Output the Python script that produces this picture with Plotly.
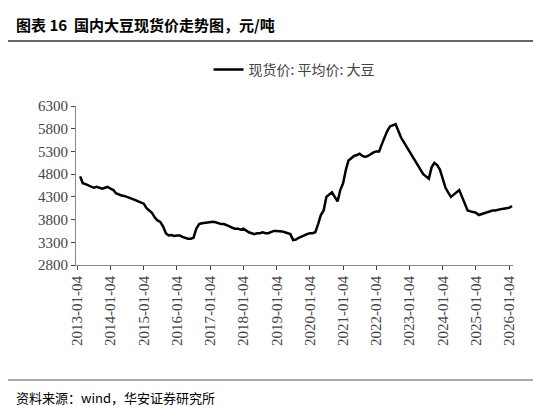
import plotly.graph_objects as go
import pandas as pd

start = "2013-01-04"
prices = [
 4750,4600,4580,4550,4520,4500,4520,4500,4480,4500,4520,4480,  # 2013
 4450,4380,4350,4330,4320,4300,4280,4250,4230,4200,4180,4150,  # 2014
 4050,4000,3950,3850,3780,3750,3650,3500,3450,3460,3440,3450,  # 2015
 3450,3420,3400,3380,3380,3400,3600,3700,3720,3730,3740,3750,  # 2016
 3750,3740,3720,3700,3700,3680,3650,3620,3600,3600,3580,3600,  # 2017
 3550,3520,3500,3480,3500,3500,3520,3500,3500,3520,3550,3550,  # 2018
 3550,3540,3520,3500,3480,3350,3360,3400,3420,3450,3480,3500,  # 2019
 3500,3520,3700,3900,4000,4300,4350,4400,4300,4200,4450,4600,  # 2020
 4900,5100,5150,5200,5220,5250,5200,5180,5200,5250,5280,5300,  # 2021
 5300,5450,5600,5750,5850,5880,5900,5750,5600,5500,5400,5300,  # 2022
 5200,5100,5000,4900,4800,4750,4700,4950,5050,5000,4900,4700, # 2023
 4500,4400,4300,4350,4400,4450,4300,4150,4000,3980,3960,3950, # 2024
 3900,3920,3950,3970,3980,4000,4000,4020,4030,4040,4050,4060, # 2025
 4100,
]
dates = pd.date_range(start, periods=len(prices), freq="MS") + pd.Timedelta(days=3)
tick_vals = [f"{y}-01-04" for y in range(2013, 2027)]
y_ticks = list(range(2800, 6301, 500))

W, H = 541, 406
L, R, T, B = 68, 36, 98, 149
pw, ph = W - L - R, H - T - B
def px(x): return (x - L) / pw
def py(y): return (H - B - y) / ph

axfont = dict(family="Liberation Serif", size=15, color="#444")
fig = go.Figure(go.Scatter(x=dates, y=prices, mode="lines", name="现货价: 平均价: 大豆",
                           line=dict(color="black", width=2.5)))
fig.update_layout(
    width=W, height=H, paper_bgcolor="white", plot_bgcolor="white",
    margin=dict(l=L, r=R, t=T, b=B, autoexpand=False),
    font=dict(family="Noto Sans CJK SC", size=13, color="#333"),
    showlegend=True,
    legend=dict(orientation="h", x=0.5, xanchor="center", y=py(62), yanchor="middle",
                font=dict(size=14, color="#444")),
    xaxis=dict(tickvals=tick_vals, ticktext=tick_vals, tickangle=-90, automargin=False,
               range=["2012-12-20", "2026-02-15"], showgrid=False,
               showline=True, linecolor="#888", ticks="outside", ticklen=4, tickfont=axfont),
    yaxis=dict(tickvals=y_ticks, range=[2800, 6300], showgrid=False, automargin=False,
               showline=True, linecolor="#888", ticks="outside", ticklen=4, tickfont=axfont),
)
fig.add_annotation(text="<b>图表 16  国内大豆现货价走势图，元/吨</b>", x=px(6), y=py(17),
                   xref="paper", yref="paper", xanchor="left", yanchor="middle",
                   showarrow=False, font=dict(size=15, color="#000"))
fig.add_annotation(text="资料来源：wind，华安证券研究所", x=px(6), y=py(389),
                   xref="paper", yref="paper", xanchor="left", yanchor="middle",
                   showarrow=False, font=dict(size=13, color="#000"))
fig.add_shape(type="line", xref="paper", yref="paper", x0=px(0), x1=px(541), y0=py(33), y1=py(33),
              line=dict(color="#333", width=1.5))
fig.add_shape(type="line", xref="paper", yref="paper", x0=px(0), x1=px(541), y0=py(372), y1=py(372),
              line=dict(color="#555", width=1))
fig.write_html("out.html")
